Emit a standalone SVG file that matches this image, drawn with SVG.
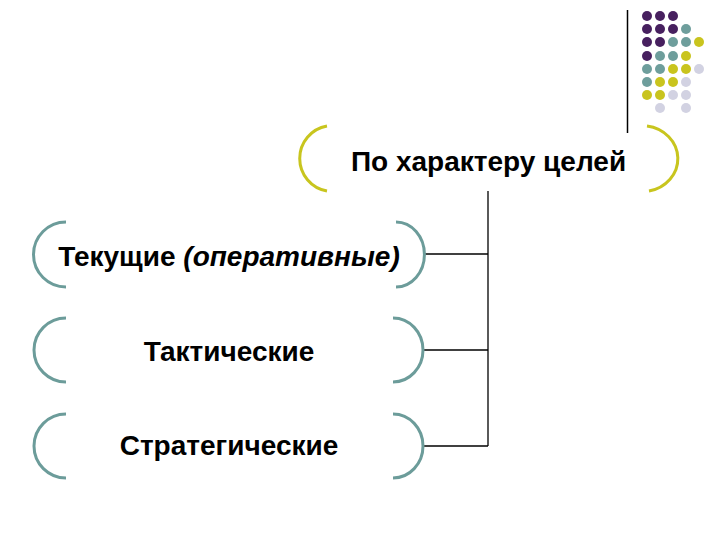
<svg xmlns="http://www.w3.org/2000/svg" width="720" height="540" viewBox="0 0 720 540">
  <style>
    .t { font-family: "Liberation Sans", Arial, sans-serif; font-weight: bold; font-size: 28px; fill: #000; text-anchor: middle; }
    .it { font-style: italic; }
    .brk { fill: none; stroke: #6c9c9a; stroke-width: 3; }
    .brkY { fill: none; stroke: #c8c51e; stroke-width: 3; }
    .con { fill: none; stroke: #000; stroke-width: 1.3; }
    .p { fill: #47205f; }
    .g { fill: #6e9e9c; }
    .y { fill: #c9c41e; }
    .l { fill: #d2d2e2; }
  </style>
  <rect width="720" height="540" fill="#fff"/>
  <g id="decor">
    <line x1="627.5" y1="10" x2="627.5" y2="133" stroke="#000" stroke-width="1.5"/>
    <g id="dots">
      <circle class="p" cx="647" cy="16" r="5"/><circle class="p" cx="660" cy="16" r="5"/><circle class="p" cx="673" cy="16" r="5"/>
      <circle class="p" cx="647" cy="29" r="5"/><circle class="p" cx="660" cy="29" r="5"/><circle class="p" cx="673" cy="29" r="5"/><circle class="g" cx="686" cy="29" r="5"/>
      <circle class="p" cx="647" cy="42" r="5"/><circle class="p" cx="660" cy="42" r="5"/><circle class="g" cx="673" cy="42" r="5"/><circle class="g" cx="686" cy="42" r="5"/><circle class="y" cx="699" cy="42" r="5"/>
      <circle class="p" cx="647" cy="56" r="5"/><circle class="g" cx="660" cy="56" r="5"/><circle class="g" cx="673" cy="56" r="5"/><circle class="y" cx="686" cy="56" r="5"/>
      <circle class="g" cx="647" cy="69" r="5"/><circle class="g" cx="660" cy="69" r="5"/><circle class="y" cx="673" cy="69" r="5"/><circle class="y" cx="686" cy="69" r="5"/><circle class="l" cx="699" cy="69" r="5"/>
      <circle class="g" cx="647" cy="82" r="5"/><circle class="y" cx="660" cy="82" r="5"/><circle class="y" cx="673" cy="82" r="5"/><circle class="l" cx="686" cy="82" r="5"/>
      <circle class="y" cx="647" cy="95" r="5"/><circle class="y" cx="660" cy="95" r="5"/><circle class="l" cx="673" cy="95" r="5"/><circle class="l" cx="686" cy="95" r="5"/>
      <circle class="l" cx="660" cy="108" r="5"/><circle class="l" cx="686" cy="108" r="5"/>
    </g>
  </g>
  <g id="connectors">
    <line class="con" x1="488" y1="191" x2="488" y2="446"/>
    <line class="con" x1="423" y1="254" x2="488" y2="254"/>
    <line class="con" x1="423" y1="350" x2="488" y2="350"/>
    <line class="con" x1="423" y1="446" x2="488" y2="446"/>
  </g>
  <g id="root">
    <path class="brkY" d="M 327 126 A 33 33 0 0 0 327 191"/>
    <path class="brkY" d="M 647 126 A 36 33 0 0 1 649 191"/>
    <text class="t" x="488.5" y="171">По характеру целей</text>
  </g>
  <g id="node-current">
    <path class="brk" d="M 66 222 A 32 32 0 0 0 66 287"/>
    <path class="brk" d="M 396 222 A 28 32 0 0 1 396 287"/>
    <text class="t" x="229" y="266">Текущие <tspan class="it">(оперативные)</tspan></text>
  </g>
  <g id="node-tactical">
    <path class="brk" d="M 66 318 A 32 32 0 0 0 66 382"/>
    <path class="brk" d="M 393 318 A 30 32 0 0 1 393 382"/>
    <text class="t" x="229" y="361">Тактические</text>
  </g>
  <g id="node-strategic">
    <path class="brk" d="M 66 414 A 32 32 0 0 0 66 478"/>
    <path class="brk" d="M 393 414 A 30 32 0 0 1 393 478"/>
    <text class="t" x="229" y="455">Стратегические</text>
  </g>
</svg>
